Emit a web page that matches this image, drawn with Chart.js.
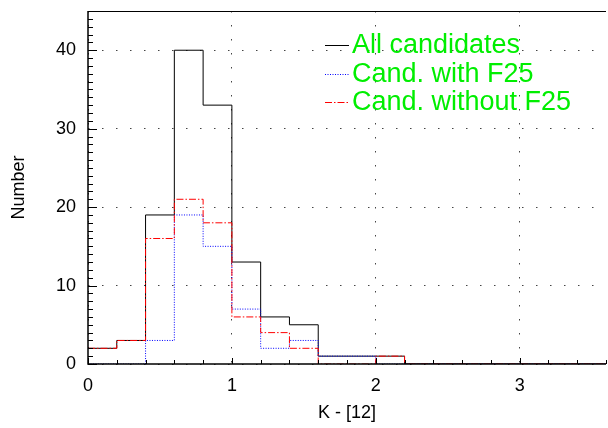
<!DOCTYPE html>
<html>
<head>
<meta charset="utf-8">
<script src="https://cdn.jsdelivr.net/npm/chart.js@4/dist/chart.umd.min.js"></script>
<style>
  html, body { margin: 0; padding: 0; background: #fff; }
  #wrap { width: 608px; height: 428px; }
</style>
</head>
<body>
<div id="wrap"><canvas id="myChart" width="608" height="428"></canvas></div>
<script>
// bin edges (K - [12]), bin width 0.2
const binStart = [0, 0.2, 0.4, 0.6, 0.8, 1.0, 1.2, 1.4, 1.6, 1.8, 2.0, 2.2, 2.4, 2.6, 2.8, 3.0, 3.2, 3.4];
const binEnd = 3.6;
// counts per bin
const allCand     = [2, 3, 19, 40, 33, 13, 6, 5, 1, 1, 1, 0, 0, 0, 0, 0, 0, 0];
const withF25     = [0, 0, 3, 19, 15, 7, 2, 3, 1, 1, 0, 0, 0, 0, 0, 0, 0, 0];
const withoutF25  = [2, 3, 16, 21, 18, 6, 4, 2, 0, 0, 1, 0, 0, 0, 0, 0, 0, 0];
const seriesNames = ['All candidates', 'Cand. with F25', 'Cand. without F25'];
const xTicks = [0, 1, 2, 3];
const yTicks = [0, 10, 20, 30, 40];

const FONT = 'Liberation Sans, Arial, Helvetica, sans-serif';

function steps(counts) {
  const pts = binStart.map((x, i) => ({ x: x, y: counts[i] }));
  pts.push({ x: binEnd, y: counts[counts.length - 1] });
  return pts;
}

const lineStyles = [
  { color: '#000000', dash: [] },
  { color: '#0000ff', dash: [1, 1.5] },
  { color: '#ff0000', dash: [7, 2, 1.5, 2] }
];

// inward ticks, axes, top frame line and the custom legend
const framePlugin = {
  id: 'frame',
  afterDatasetsDraw(chart) {
    const ctx = chart.ctx;
    const a = chart.chartArea;
    const xs = chart.scales.x, ys = chart.scales.y;
    ctx.save();
    ctx.strokeStyle = '#000';
    ctx.lineWidth = 1;
    ctx.setLineDash([]);
    ctx.beginPath();
    ctx.moveTo(a.left, a.top + 0.5);
    ctx.lineTo(a.right, a.top + 0.5);
    for (let v = 0; v <= 45; v++) {
      const py = Math.round(ys.getPixelForValue(v)) + 0.5;
      const len = v % 10 === 0 ? 9 : 5;
      ctx.moveTo(a.left, py);
      ctx.lineTo(a.left + len, py);
    }
    for (let i = 0; i <= 18; i++) {
      const v = i * 0.2;
      const px = Math.round(xs.getPixelForValue(v)) + 0.5;
      const len = i % 5 === 0 ? 6 : 4;
      ctx.moveTo(px, a.bottom);
      ctx.lineTo(px, a.bottom - len);
    }
    ctx.stroke();
    ctx.lineWidth = 1.5;
    ctx.beginPath();
    ctx.moveTo(a.left, a.top);
    ctx.lineTo(a.left, a.bottom);
    ctx.lineTo(a.right, a.bottom);
    ctx.stroke();

    // legend
    ctx.lineWidth = 1;
    ctx.font = '27px ' + FONT;
    ctx.textBaseline = 'middle';
    ctx.textAlign = 'left';
    seriesNames.forEach((name, i) => {
      const y = 45 + i * 28.5;
      ctx.beginPath();
      ctx.strokeStyle = lineStyles[i].color;
      ctx.setLineDash(lineStyles[i].dash);
      ctx.moveTo(325, Math.round(y) + 0.5);
      ctx.lineTo(349, Math.round(y) + 0.5);
      ctx.stroke();
      ctx.setLineDash([]);
      ctx.fillStyle = '#00ee00';
      ctx.fillText(name, 352, y + 1);
    });
    ctx.restore();
  }
};

const sets = [allCand, withF25, withoutF25];
const datasets = [2, 1, 0].map(i => ({
  label: seriesNames[i],
  data: steps(sets[i]),
  stepped: 'before',
  borderColor: lineStyles[i].color,
  borderDash: lineStyles[i].dash,
  borderWidth: 1,
  pointRadius: 0,
  fill: false
}));

const ctx = document.getElementById('myChart').getContext('2d');
new Chart(ctx, {
  type: 'line',
  data: { datasets: datasets },
  options: {
    responsive: false,
    animation: false,
    layout: { padding: { top: 11, right: 2, left: 0, bottom: 0 } },
    plugins: {
      legend: { display: false },
      tooltip: { enabled: false }
    },
    scales: {
      x: {
        type: 'linear',
        min: 0,
        max: binEnd,
        afterBuildTicks(scale) {
          scale.ticks = xTicks.map(v => ({ value: v }));
        },
        afterFit(scale) {
          scale.height = 64;
          scale.paddingLeft = 0;
          scale.paddingRight = 0;
        },
        ticks: {
          color: '#000',
          padding: 11,
          maxRotation: 0,
          font: { family: FONT, size: 18 },
          callback: v => String(v)
        },
        grid: {
          drawTicks: false,
          color: '#444',
          lineWidth: 1
        },
        border: { display: false, dash: [1.5, 12.5] },
        title: {
          display: true,
          text: 'K - [12]',
          color: '#000',
          font: { family: FONT, size: 18 },
          padding: { top: 0, bottom: 4 }
        }
      },
      y: {
        min: 0,
        max: 45,
        afterBuildTicks(scale) {
          scale.ticks = yTicks.map(v => ({ value: v }));
        },
        afterFit(scale) {
          scale.width = 88;
          scale.paddingTop = 0;
          scale.paddingBottom = 0;
        },
        ticks: {
          color: '#000',
          padding: 12,
          font: { family: FONT, size: 18 },
          callback: v => String(v)
        },
        grid: {
          drawTicks: false,
          color: '#444',
          lineWidth: 1
        },
        border: { display: false, dash: [1.5, 12.5] },
        title: {
          display: true,
          text: 'Number',
          color: '#000',
          font: { family: FONT, size: 18 },
          padding: { top: 8, bottom: 0 }
        }
      }
    }
  },
  plugins: [framePlugin]
});
</script>
</body>
</html>
